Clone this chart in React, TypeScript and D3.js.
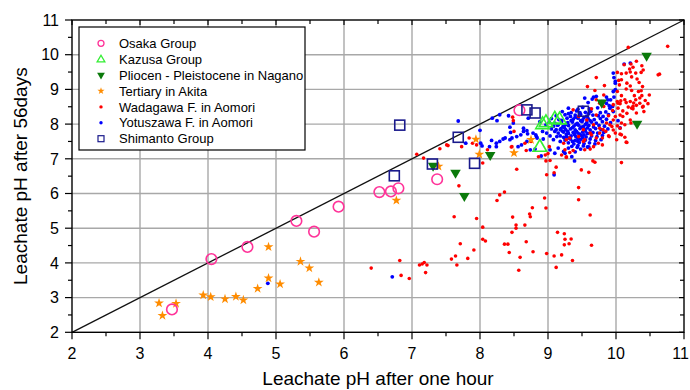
import React from "react";
import * as d3 from "d3";

type P = [number, number];

const xTicks = [2, 3, 4, 5, 6, 7, 8, 9, 10, 11];
const yTicks = [2, 3, 4, 5, 6, 7, 8, 9, 10, 11];
const xTitle = "Leachate pH after one hour";
const yTitle = "Leachate pH after 56days";

const seriesNames = [
  "Osaka Group",
  "Kazusa Group",
  "Pliocen - Pleistocene in Nagano",
  "Tertiary in Akita",
  "Wadagawa F. in Aomori",
  "Yotuszawa F. in Aomori",
  "Shimanto Group",
];

const osaka: P[] = [[3.47,2.66],[4.05,4.11],[4.58,4.46],[5.30,5.21],[5.56,4.90],[5.92,5.62],[6.52,6.04],[6.69,6.06],[6.80,6.15],[7.37,6.41],[8.58,8.40]];
const kazusa: P[] = [[8.92,7.98],[8.97,8.04],[9.10,8.14],[9.17,8.12],[8.88,7.33]];
const pliocen: P[] = [[10.45,9.97],[9.79,8.62],[10.31,8.01],[8.15,7.11],[7.31,6.80],[7.64,6.60],[7.77,5.93]];
const tertiary: P[] = [[3.28,2.84],[3.33,2.48],[3.53,2.83],[3.93,3.07],[4.04,3.02],[4.25,2.96],[4.41,3.03],[4.52,2.93],[4.73,3.26],[4.89,3.56],[4.89,4.46],[5.06,3.39],[5.36,4.04],[5.49,3.85],[5.63,3.44],[6.77,5.80],[7.39,6.78],[7.99,7.13],[7.94,7.56],[8.50,7.17],[8.75,7.55]];
const shimanto: P[] = [[6.74,6.51],[6.82,7.97],[7.30,6.85],[7.68,7.62],[7.92,6.87],[8.69,8.41],[8.81,8.32],[9.52,8.37]];

const wadagawa: P[] = [
  [8.54,6.70],[7.69,6.22],[8.29,5.96],[8.36,6.04],[8.25,5.80],[8.95,5.87],[8.97,5.58],[8.77,5.59],[9.45,6.17],[9.45,5.82],
  [7.62,5.33],[7.95,5.28],[8.48,5.32],[8.73,5.41],[8.74,5.33],[8.04,5.03],[8.53,5.09],[8.53,5.00],[8.66,5.09],[8.47,4.88],
  [9.62,5.38],[9.14,4.88],[9.24,4.84],[9.25,4.68],[9.34,4.69],[9.24,4.52],[9.31,4.55],[7.71,4.55],[8.04,4.68],[8.08,4.63],
  [8.36,4.54],[8.41,4.54],[8.68,4.61],[7.91,4.37],[8.43,4.30],[8.78,4.32],[8.59,4.16],[8.98,4.27],[9.09,4.20],[9.20,4.23],
  [9.64,4.51],[9.36,4.07],[7.64,4.20],[7.58,4.11],[7.66,3.94],[7.82,4.13],[9.12,3.87],[8.57,3.79],[7.95,7.40],[8.04,6.88],
  [8.97,6.94],[9.03,6.95],[9.00,7.15],[8.98,6.54],[9.09,6.60],[9.12,6.76],[9.49,6.68],[9.60,6.61],[9.66,6.94],[9.69,6.90],
  [10.08,6.89],[10.15,7.48],[9.27,7.04],[7.53,7.38],[7.41,7.29],[8.46,7.34],[8.68,7.24],[9.80,7.40],[6.40,3.85],[6.82,4.07],
  [7.11,3.94],[7.15,3.97],[7.18,4.01],[7.22,3.94],[7.20,3.72],[6.84,3.64],[6.96,3.55],[7.07,7.13],[7.17,7.02],[8.11,7.26],
  [8.48,8.20],[8.49,8.10],[8.50,7.79],[8.66,7.45],[8.75,7.50],[8.96,7.11],[9.02,7.35],[9.20,7.11],[9.25,7.26],[9.27,7.55],
  [9.23,7.45],[7.84,7.60],[7.89,7.45],[7.73,7.35],[8.47,7.35],[7.51,7.40],[8.86,7.06],[9.27,7.06],
  [10.18,10.21],[10.76,10.24],[10.12,9.71],[10.22,9.73],[10.25,9.64],[10.20,9.59],[10.30,9.81],[10.38,9.68],[10.02,9.49],[10.08,9.45],
  [10.15,9.47],[10.21,9.50],[10.29,9.47],[10.37,9.49],[10.23,9.36],[10.31,9.30],[10.64,9.44],[10.40,9.56],[10.04,9.26],[10.08,9.28],
  [10.05,9.13],[10.16,9.18],[10.21,9.10],[10.15,9.01],[10.23,8.97],[10.34,9.20],[10.37,8.96],[10.39,9.08],[9.83,9.11],[9.58,9.08],
  [9.69,8.97],[9.82,8.84],[10.02,8.94],[10.08,8.82],[10.27,8.82],[10.33,8.94],[10.38,8.82],[10.29,8.70],[10.21,8.65],[10.13,8.70],
  [10.35,8.60],[10.25,8.51],[10.18,8.49],[10.06,8.59],[10.02,8.65],[9.96,8.56],[10.39,8.49],[9.71,8.70],[9.76,8.60],[9.82,8.51],
  [10.47,8.59],[10.43,8.68],[9.71,9.34],
  [10.07,8.67],[10.15,8.62],[10.26,8.61],[10.30,8.54],[10.25,8.44],[10.03,8.46],[10.10,8.38],[9.95,8.39],[10.16,8.31],[10.06,8.26],
  [9.99,8.22],[9.89,8.24],[9.96,8.12],[10.22,8.03],[9.91,7.98],[10.02,7.95],[10.08,8.03],[9.96,7.83],[9.85,7.79],[9.99,7.74],
  [10.06,7.71],[9.76,7.74],[9.90,7.64],[9.80,7.60],[10.13,7.62],[10.16,7.47],[9.54,7.26],[9.62,7.28],[9.37,7.24],[9.32,7.18],
  [10.49,8.84],[10.35,8.75],[10.40,8.51],[10.41,8.36],[10.30,8.32],[10.62,9.42],[10.23,8.46],[10.10,8.22],[10.21,8.12],[10.13,7.98],
  [10.06,7.88],[10.08,7.69],[10.01,7.55],[10.03,8.60],
];

const wadagawaCore: P[] = [
  [9.64,8.44],[9.71,8.26],[9.57,8.12],[9.67,7.98],[9.76,7.88],[9.52,7.84],[9.62,7.74],[9.45,7.64],[9.32,7.60],[9.54,7.55],
  [9.74,7.45],[9.37,8.41],[9.45,8.22],[9.64,7.69],[9.71,7.60],[9.52,7.50],[9.67,7.35],[9.86,8.03],[9.89,7.66],[9.94,7.93],[9.81,7.84],
];

const yotuszawa: P[] = [
  [4.88,3.41],[6.71,3.60],[9.09,6.54],[9.39,6.94],[8.90,7.08],[7.68,8.09],[8.18,8.17],[8.44,7.91],[8.45,7.76],[8.37,7.60],
  [8.47,7.60],[8.54,7.64],[8.29,7.50],[8.24,7.35],[8.56,7.35],[8.61,7.40],[8.69,7.50],[8.64,7.79],[8.70,7.72],[8.78,7.74],
  [8.83,7.64],[8.74,7.26],[8.81,7.28],[8.00,7.82],[8.42,8.24],[8.49,8.03],[8.64,7.88],[8.69,7.81],[8.60,7.69],[8.44,7.55],
  [8.82,7.69],[8.84,7.60],[8.93,7.57],[8.98,7.74],[8.24,7.45],[8.14,7.35],[8.34,7.57],[8.17,7.53],[8.01,7.45],[8.03,7.37],
  [7.79,7.45],[8.71,8.17],[8.25,8.10],[8.29,8.27],
  [8.92,7.79],[8.88,8.07],[8.97,7.98],[9.03,7.66],[9.08,7.55],[9.10,7.79],[9.13,7.64],[9.18,7.50],[9.23,7.62],[9.18,7.84],[9.15,7.98],[9.23,7.93],
  [9.96,9.47],[9.99,9.23],[9.99,8.99],[9.97,8.78],[9.92,8.70],[9.86,8.78],[9.79,8.65],[9.71,8.80],[9.65,8.72],[9.54,8.75],
  [9.59,8.62],[9.95,8.51],[10.21,9.76],[10.12,9.73],[9.97,9.34],[9.99,9.18],[9.96,8.94],[9.67,8.78],[9.81,8.65],[9.88,8.70],
  [9.90,8.53],[9.86,8.60],[9.91,8.46],[9.96,8.36],[9.81,8.22],[10.03,8.10],[10.06,7.89],
  [9.03,7.26],[9.10,7.16],[9.15,7.31],[9.25,7.16],[9.30,7.31],[9.35,7.06],[9.23,7.21],[9.40,7.20],[9.48,7.28],[9.58,7.34],[9.44,7.38],
  [9.30,8.46],[9.44,8.43],[9.51,8.48],[9.61,8.44],[9.73,8.47],
  [9.21,8.36],[9.34,8.33],[9.42,8.38],[9.55,8.34],[9.63,8.37],[9.77,8.33],[9.85,8.35],
  [9.12,8.24],[9.25,8.27],[9.33,8.22],[9.40,8.26],[9.48,8.28],[9.57,8.23],[9.66,8.26],[9.74,8.24],[9.89,8.27],
  [9.05,8.16],[9.16,8.13],[9.28,8.17],[9.37,8.14],[9.44,8.17],[9.51,8.12],[9.59,8.16],[9.68,8.13],[9.77,8.16],[9.86,8.14],
  [9.02,8.05],[9.10,8.03],[9.20,8.07],[9.29,8.04],[9.36,8.06],[9.43,8.02],[9.50,8.07],[9.57,8.04],[9.64,8.06],[9.71,8.03],[9.80,8.07],[9.92,8.04],
  [9.08,7.94],[9.14,7.97],[9.22,7.93],[9.30,7.96],[9.38,7.94],[9.45,7.97],[9.52,7.93],[9.60,7.96],[9.67,7.92],[9.75,7.96],[9.83,7.94],
  [9.05,7.86],[9.12,7.84],[9.19,7.87],[9.26,7.84],[9.33,7.86],[9.40,7.83],[9.47,7.87],[9.54,7.85],[9.62,7.83],[9.70,7.87],[9.78,7.84],[9.88,7.86],
  [9.15,7.74],[9.23,7.77],[9.30,7.73],[9.37,7.76],[9.44,7.74],[9.51,7.77],[9.58,7.73],[9.66,7.76],[9.73,7.74],[9.82,7.76],
  [9.18,7.66],[9.27,7.63],[9.34,7.66],[9.41,7.64],[9.49,7.67],[9.56,7.63],[9.64,7.66],[9.72,7.64],[9.80,7.67],
  [9.25,7.54],[9.33,7.57],[9.40,7.53],[9.48,7.56],[9.55,7.54],[9.62,7.57],[9.70,7.53],[9.78,7.55],
  [9.30,7.46],[9.38,7.43],[9.46,7.47],[9.53,7.44],[9.61,7.46],[9.69,7.43],
  [9.35,7.36],[9.43,7.33],[9.52,7.37],[9.60,7.34],
  [9.20,8.11],[9.26,7.99],[9.34,8.10],[9.41,7.99],[9.48,8.10],[9.55,7.99],[9.62,8.10],[9.24,7.90],[9.36,7.90],[9.49,7.91],
  [9.58,7.89],[9.21,7.80],[9.29,7.79],[9.42,7.79],[9.55,7.80],[9.27,7.70],[9.39,7.70],[9.47,7.71],[9.53,7.69],[9.31,7.60],
  [9.44,7.59],[9.51,7.61],[9.36,7.50],[9.44,7.50],[9.40,8.20],[9.53,8.19],[9.30,8.30],[9.47,8.33],[9.60,8.30],
];

const C = {
  osaka: "#ff3399",
  kazusa: "#33ee33",
  pliocen: "#0b7a0b",
  tertiary: "#ff8c00",
  red: "#ff0000",
  blue: "#0000ff",
  shimanto: "#1a1a8c",
};

const FONT = "'Liberation Sans', Arial, Helvetica, sans-serif";

export default function App() {
  const L = 72, R = 684, T = 20, B = 332.3;
  const x = d3.scaleLinear().domain([2, 11]).range([L, R]);
  const y = d3.scaleLinear().domain([2, 11]).range([B, T]);

  const star = d3.symbol().type(d3.symbolStar).size(30)()!;
  const starSmall = d3.symbol().type(d3.symbolStar).size(16)()!;
  const tri = d3.symbol().type(d3.symbolTriangle).size(80)()!;
  const triSmall = d3.symbol().type(d3.symbolTriangle).size(26)()!;
  const triDown = d3.symbol().type(d3.symbolTriangle).size(48)()!;
  const triDownSmall = d3.symbol().type(d3.symbolTriangle).size(26)()!;

  const minor = d3.range(2, 11.001, 0.5);
  const grid = [3, 4, 5, 6, 7, 8, 9, 10];

  const legX = 101, legY0 = 43.3, legDy = 15.9;

  const legendMarker = (i: number, cy: number) => {
    switch (i) {
      case 0: return <circle cx={legX} cy={cy} r={3} fill="none" stroke={C.osaka} strokeWidth={1.3} />;
      case 1: return <path d={triSmall} transform={`translate(${legX},${cy + 0.5})`} fill="none" stroke={C.kazusa} strokeWidth={1.3} />;
      case 2: return <path d={triDownSmall} transform={`translate(${legX},${cy})rotate(180)`} fill={C.pliocen} />;
      case 3: return <path d={starSmall} transform={`translate(${legX},${cy})`} fill={C.tertiary} />;
      case 4: return <circle cx={legX} cy={cy} r={1.7} fill={C.red} />;
      case 5: return <circle cx={legX} cy={cy} r={1.7} fill={C.blue} />;
      default: return <rect x={legX - 3} y={cy - 3} width={6} height={6} fill="none" stroke={C.shimanto} strokeWidth={1.2} />;
    }
  };

  return (
    <svg width={690} height={390} style={{ position: "absolute", left: 0, top: 0, background: "#fff" }} fontFamily={FONT}>
      <rect x={0} y={0} width={690} height={390} fill="#fff" />
      {grid.map((v) => (
        <g key={"g" + v}>
          <line x1={x(v)} x2={x(v)} y1={T} y2={B} stroke="#a8a8a8" strokeWidth={1.4} />
          <line x1={L} x2={R} y1={y(v)} y2={y(v)} stroke="#a8a8a8" strokeWidth={1.4} />
        </g>
      ))}
      <line x1={x(2)} y1={y(2)} x2={x(11)} y2={y(11)} stroke="#111" strokeWidth={1.3} />

      {yotuszawa.map((p, i) => <circle key={"b" + i} cx={x(p[0])} cy={y(p[1])} r={1.9} fill={C.blue} />)}
      {wadagawa.concat(wadagawaCore).map((p, i) => <circle key={"r" + i} cx={x(p[0])} cy={y(p[1])} r={1.8} fill={C.red} />)}
      {tertiary.map((p, i) => <path key={"s" + i} d={star} transform={`translate(${x(p[0])},${y(p[1])})`} fill={C.tertiary} />)}
      {pliocen.map((p, i) => <path key={"t" + i} d={triDown} transform={`translate(${x(p[0])},${y(p[1])})rotate(180)`} fill={C.pliocen} />)}
      {osaka.map((p, i) => <circle key={"o" + i} cx={x(p[0])} cy={y(p[1])} r={5.3} fill="none" stroke={C.osaka} strokeWidth={1.6} />)}
      {kazusa.map((p, i) => <path key={"k" + i} d={tri} transform={`translate(${x(p[0])},${y(p[1])})`} fill="none" stroke={C.kazusa} strokeWidth={1.6} />)}
      {shimanto.map((p, i) => <rect key={"q" + i} x={x(p[0]) - 5} y={y(p[1]) - 5} width={10} height={10} fill="none" stroke={C.shimanto} strokeWidth={1.6} />)}

      <rect x={L} y={T} width={R - L} height={B - T} fill="none" stroke="#000" strokeWidth={1.4} />
      {minor.map((v) => {
        const maj = Math.abs(v - Math.round(v)) < 1e-6;
        const lo = maj ? 7 : 4;
        const li = maj ? 5 : 4;
        return (
          <g key={"tk" + v} stroke="#000" strokeWidth={1.2}>
            <line x1={x(v)} x2={x(v)} y1={B} y2={B + lo} />
            <line x1={x(v)} x2={x(v)} y1={T} y2={T + li} />
            <line x1={L} x2={L - lo} y1={y(v)} y2={y(v)} />
            <line x1={R} x2={R - li} y1={y(v)} y2={y(v)} />
          </g>
        );
      })}
      {xTicks.map((v) => (
        <text key={"xl" + v} x={Math.min(x(v), 680.5)} y={359} textAnchor="middle" fontSize={16} fill="#000">{v}</text>
      ))}
      {yTicks.map((v) => (
        <text key={"yl" + v} x={59} y={y(v)} dy="0.36em" textAnchor="end" fontSize={16} fill="#000">{v}</text>
      ))}
      <text x={(L + R) / 2} y={385} textAnchor="middle" fontSize={19} fill="#000">{xTitle}</text>
      <text transform={`translate(27,${(T + B) / 2})rotate(-90)`} textAnchor="middle" fontSize={19} fill="#000">{yTitle}</text>

      <rect x={79} y={27} width={226} height={123} fill="#fff" stroke="#000" strokeWidth={1.2} />
      {seriesNames.map((n, i) => {
        const cy = legY0 + i * legDy;
        return (
          <g key={"lg" + i}>
            {legendMarker(i, cy)}
            <text x={119} y={cy} dy="0.36em" fontSize={13} fill="#000">{n}</text>
          </g>
        );
      })}
    </svg>
  );
}
